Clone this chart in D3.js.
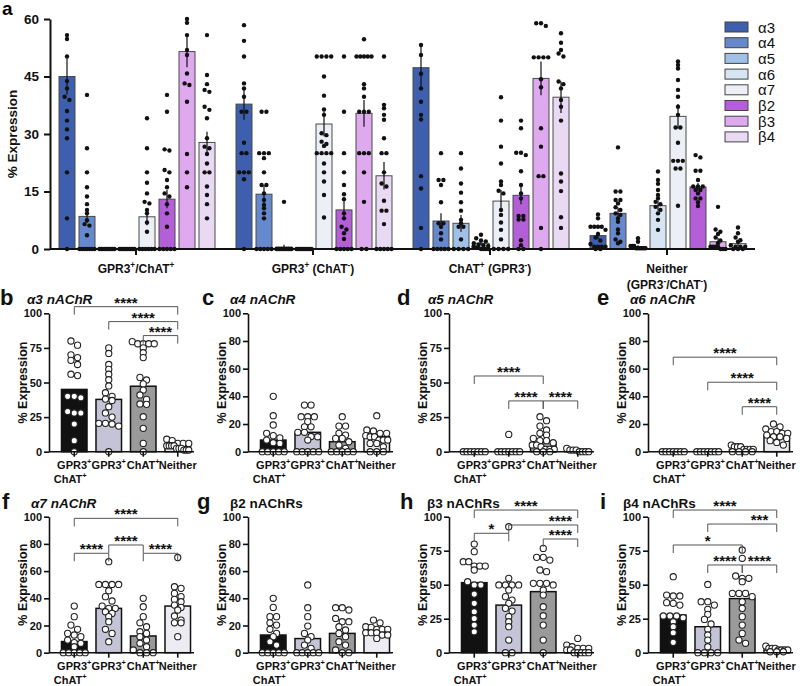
<!DOCTYPE html>
<html><head><meta charset="utf-8">
<script src="https://cdn.jsdelivr.net/npm/d3@7"></script>
<style>body{margin:0;background:#fff} svg{display:block} text{font-family:"Liberation Sans",Arial,Helvetica,sans-serif}</style>
</head><body><script>
// ---------------- DATA ----------------
const groupLabels = ["GPR3^+/ChAT^+", "GPR3^+ (ChAT^-)", "ChAT^+ (GPR3^-)", "Neither|(GPR3^-/ChAT^-)"];
const subunits = ["α3","α4","α5","α6","α7","β2","β3","β4"];
const subunitColors = ["#3d5fae","#6688cc","#a0c0e8","#d6e4f4","#eceff6","#b45fd8","#dfa9ef","#ead9f3"];
const ticksA = [0,15,30,45,60];

const meanG1 = [45, 8.5, 0, 0, 8.4, 13, 51.5, 27.8];
const semG1  = [4.7, 1.7, 0, 0, 2.2, 2.4, 4.1, 2.8];
const meanG2 = [37.8, 14.3, 0.5, 0, 32.6, 10.2, 35.4, 19.1];
const semG2  = [4.1, 2.4, 0.6, 0, 3.2, 2.6, 3.5, 3.6];
const meanG3 = [47.3, 7.3, 6.7, 1.5, 12.5, 14, 44.5, 39.6];
const semG3  = [5.5, 2, 2.2, 0.5, 2.9, 2.3, 4.4, 4.1];
const meanG4 = [3.5, 9.3, 0.6, 11.3, 34.6, 16.2, 1.9, 1.4];
const semG4  = [1, 1.5, 0.4, 1.3, 3.2, 1, 1, 0.7];

const pointsG1 = [
  [55.8,54.8,50.2,43.8,41.9,39.7,38.9,36,33.5,31.2,28.9,20,8,0],
  [40.2,26.3,20,16.1,13.7,11.7,10.2,9.3,7.5,6.5,6.1,3.6,0,0,0,0,0,0,0],
  [0,0,0,0,0,0,0,0,0,0],
  [0,0,0,0,0,0,0,0,0,0],
  [34.1,26.3,20,17.3,14.5,12.3,11.9,10.2,9.3,6.9,4.5,0,0,0,0,0,0],
  [40.2,35.8,26,25.7,20.6,20,18,16.1,14.5,13.7,11.7,9.3,5.8,0,0,0,0,0],
  [60,59,55.8,51.9,50.6,45.8,43.2,42.8,38.4,24.8,20,16.1],
  [55.8,45.4,43,41.5,41,37.1,36.3,34.1,28.9,26.7,26.3,24.8,22.3,20,20,16.3,14.1,11.7,8]
];
const pointsG2 = [
  [58.4,54.3,50.2,43.2,41.9,39.7,35.8,35.8,27.7,25,25,20,20,20,18.2,0],
  [35.8,35.8,25,25,25,23.7,20,16.7,16.7,14.5,12.8,11.5,10.6,9.3,8,0,0,0,0,0],
  [12.3,0,0,0,0,0,0,0,0,0,0],
  [0,0,0,0,0,0,0,0,0,0],
  [50.2,50.2,50.2,50.2,45,40,36.4,35,30.2,29.7,28,27.4,26.9,25,25,25,25,22.3,20,17.6,14.1,8.2],
  [50.2,35.8,25,20,16.7,14.3,13,9.3,8,5.8,5.1,4.1,2.6,0,0,0,0,0],
  [54.7,50.2,50.2,50.2,50.2,50.2,43,41.9,39.7,35.8,35.8,35.8,25,25,25,20,12.3,0,0],
  [50.2,37.6,36.7,35,33.7,28.9,25,25,20,17.1,16.3,12.6,10,10,6.5,0,0,0,0,0]
];
const pointsG3 = [
  [53.2,50.6,45.7,41.9,38.4,35,33.8,19,15.8,5.5,0],
  [25,18,18,16.7,12.2,6.7,6.7,5.8,4.1,2.5,0,0,0,0,0],
  [25,21,17.1,14.7,12.2,10,7.6,6.7,5.8,5.8,2.5,0,0,0,0],
  [3.7,2.8,2.2,2,1.5,1.2,1,0.8,0.6,0.4,0.3,0,0,0,0],
  [39.6,33.5,26.7,22.3,17.6,16.7,15.2,14.5,10.2,8.9,6.9,5,2.5,0,0,0,0],
  [33.5,31.5,25.1,25.1,24.5,20.3,16.7,14.5,13.2,8.6,8.6,7.7,7.7,2.3,1,0,0],
  [58.9,58.9,58.2,50,50,50,50,44.3,42.2,31.5,26.7,19,19,5.5,0],
  [56.3,53.8,51.9,51,50.2,43.7,43,41.9,38.9,37.1,33.5,19.7,17.6,15.1,8.3,5.5]
];
const pointsG4 = [
  [9,8,5.8,5.8,5.8,5.8,5,3.9,3,2.2,1.3,0.6,0.6,0.6,0.6,0,0],
  [26.5,15,15,12.8,12.8,11.9,10.9,10.2,9.3,8.9,8,7.1,5.1,4.1,2.5,1.9,1.5],
  [2.8,1.9,0.8,0.8,0.8,0.2,0.2,0.2,0.2,0.2,0.2],
  [20.2,18,17,15.4,14.1,13.2,12.3,11.7,11,10.2,9.3,7.6,5],
  [48.9,48,47.1,44.1,41.5,39.7,37.1,35,31.7,31.7,27.7,23,23,23,21,21,11.3],
  [24.5,23.9,20.4,20.4,18,16.3,16.3,16.3,15.4,15.4,14.5,13.2,13.2,12.2,11.2],
  [11,5.1,4.5,3.9,3,2.2,1.5,0.6,0.6,0.6,0.6,0,0,0],
  [5.6,4.1,3,2.3,1.9,1,0.6,0.6,0.6,0,0,0]
];

// small panels
const smallCategories = ["GPR3^+|ChAT^+", "GPR3^+", "ChAT^+", "Neither"];
const smallColors = ["#111111","#c4c4d6","#9a9a9a","#ececf2"];
const ticks25 = [0,25,50,75,100];
const ticks20 = [0,20,40,60,80,100];

const meansB = [45, 37.8, 47.3, 3.8];
const pointsB = [
  [80,77,70,68,66,63,56,55,40,40,39,29,28,28,20,8,0],
  [75,71,63,59.5,56,52,47.5,42.6,40,38,37,32.5,28,25,20.5,20.5,20,18.5,0],
  [79.5,78,78,78,78,75,71.5,68,53.7,51.8,49,44.6,41,37.8,34.5,34.2,25.3,16.9,6,0],
  [9,8,6,6,6,4.3,4.3,4.3,4.3,2.4,2.4,2.4,1.2,1.2,1.2]
];
const sigB = [[0,3,104.8,"****"],[1,3,94,"****"],[2,3,83.9,"****"]];

const meansC = [8.4, 14, 7.2, 10.8];
const pointsC = [
  [40,26,19.3,13.3,11.6,10,8.4,6.5,6,0,0,0,0,0],
  [33.7,33.7,25.3,25.3,25.3,21.7,18,18,14,14,11,10.8,8.4,0,0,0,0,0],
  [25.3,18.5,18.5,13.3,12,9.6,9.6,7.2,4.8,2.4,0,0,0,0,0],
  [26,15.7,15,13.3,13.3,11.6,10.8,10.8,8.4,8.4,8.4,6,6,3.6,0,0,0]
];
const sigC = [];

const meansD = [0, 0.7, 6.7, 0.6];
const pointsD = [
  [0,0,0,0,0,0,0],
  [12.5,0,0,0,0,0,0,0],
  [25.3,22.4,18.5,15.7,13.3,12,9.6,8,8,6.5,4.8,4.8,3.6,1.7,1.7,1.7,0,0,0],
  [2.4,1.2,1.2,1.2,0,0,0,0]
];
const sigD = [[0,2,54.7,"****"],[1,2,36.7,"****"],[2,3,36.7,"****"]];

const meansE = [0, 0, 1.7, 11.6];
const pointsE = [
  [0,0,0,0,0,0,0],
  [0,0,0,0,0,0,0],
  [4.8,3.6,3.6,3.6,1.7,1.7,1.7,1.7,0,0,0,0],
  [20,18,16.4,14.5,14.5,13.3,13.3,12,10.8,10.8,9.6,8,6.7,4.8]
];
const sigE = [[0,3,68.3,"****"],[1,3,50.2,"****"],[2,3,32.5,"****"]];

const meansF = [8.2, 32.6, 12.3, 34.3];
const pointsF = [
  [34.3,26.5,20.3,17.2,14.2,13,11.8,9.3,7.4,6.9,4.4,0,0,0,0,0],
  [66.9,50.2,50.2,50.2,50.2,45.6,41.2,38,34.3,32.6,32.6,30.1,28.9,26.5,22.8,17.2,14.2,8.1],
  [40,33.8,26.5,22,19.1,15.4,14.2,11.8,9.3,6.9,4.4,2,0,0,0],
  [70,48.5,47.3,43.6,41.2,39.2,37.5,35,33.3,31.4,27,24,22,22,11.8]
];
const sigF = [[0,3,98.8,"****"],[0,1,73.1,"****"],[1,2,79.2,"****"],[2,3,73.1,"****"]];

const meansG = [13, 10.4, 14.2, 16.8];
const pointsG = [
  [40,33.3,26.5,26.5,22,20.3,17.2,14.2,11.8,8.1,5.6,0,0,0,0,0],
  [49.8,33.1,26.5,19.6,14.2,11.8,9.3,5.6,3.2,0,0,0,0,0],
  [33.1,33.1,31.4,25.2,22.8,22.8,19.1,16.7,14.2,11.8,8.1,5.6,2,0,0],
  [24,22,19.1,18.6,17.2,17.2,17.2,14.7,14.7,14.7,13,13,10.5]
];
const sigG = [];

const meansH = [51.5, 35, 44.9, 2];
const pointsH = [
  [79.9,74.3,66.9,66.9,63.7,63.7,63.7,60.8,52.2,49.8,49.8,43.1,36.3,30.1,25.2,20.3,15.4],
  [92.6,54.7,49.8,49.8,49.8,49.8,46.1,41.2,38.7,36.3,32.6,30.6,26.5,22.8,19.1,9.3,0,0],
  [76.7,70.1,70.1,68.1,60.8,59.6,51,51,51,49.8,46.1,42.4,33.8,27.2,20.3,9.3,0],
  [10.5,5.6,4.4,3.2,3.2,3.2,2,2,0,0,0,0,0]
];
const sigH = [[0,3,104.9,"****"],[1,3,93.9,"****",2.5],[2,3,83.6,"****"],[0,1,87.8,"*"]];

const meansI = [27.7, 19.1, 39.8, 2];
const pointsI = [
  [55.9,42.4,41.7,41.7,36.8,36.3,35,27,27,27,25.7,22.8,19.1,14.7,7.6],
  [50.2,37.5,37.5,35,31.9,28.2,24.5,21.1,17.2,13,9.3,4.4,0,0,0,0],
  [75.5,69.4,56.4,54.7,54.7,52.2,43.6,43.6,43.6,41.2,37.5,32.6,26.5,20.3,14.2,9.3,6.9],
  [4.9,3.2,3.2,3.2,2,2,2,2,0.7,0.7,0.7]
];
const sigI = [[0,3,104.9,"****"],[1,3,94.6,"***",2.5],[0,2,79.2,"*"],[1,2,64.5,"****"],[2,3,64.5,"****"]];

// ---------------- DRAWING ----------------
const W = 800, H = 686;
const svg = d3.select("body").append("svg").attr("width", W).attr("height", H);

function rich(sel, str, fs) {
  const parts = str.split(/(\^[+\-])/);
  let up = false;
  parts.forEach(p => {
    if (!p) return;
    if (p[0] === "^") {
      sel.append("tspan").attr("dy", -fs * 0.42).attr("font-size", fs * 0.68).text(p.slice(1) === "-" ? "-" : "+");
      up = true;
    } else {
      const t = sel.append("tspan").text(p);
      if (up) { t.attr("dy", fs * 0.42); up = false; }
    }
  });
}

function swarm(vals, y, cx, r, maxHalf) {
  const pts = vals.map(v => ({ v, py: y(v) })).sort((a, b) => a.py - b.py);
  const rows = []; let cur = null;
  pts.forEach(p => {
    if (!cur || p.py - cur.y0 > r * 1.5) { cur = { y0: p.py, items: [] }; rows.push(cur); }
    cur.items.push(p);
  });
  const out = [];
  rows.forEach(row => {
    const n = row.items.length;
    const sp = n > 1 ? Math.min(2 * r + 0.4, 2 * maxHalf / (n - 1)) : 0;
    row.items.forEach((p, i) => out.push({ x: cx + (i - (n - 1) / 2) * sp, y: p.py }));
  });
  return out;
}

function styleAxis(g, fs, sw) {
  g.selectAll("path.domain").attr("stroke", "#111").attr("stroke-width", sw);
  g.selectAll(".tick line").attr("stroke", "#111").attr("stroke-width", sw);
  g.selectAll(".tick text").attr("font-size", fs).attr("font-weight", "bold").attr("fill", "#111")
    .attr("font-family", '"Liberation Sans",Arial,sans-serif');
}

// ===== Panel a =====
(function () {
  const top = 19, bottom = 249;
  const y = d3.scaleLinear().domain([0, 60]).range([bottom, top]);
  const x0 = d3.scaleBand().domain(d3.range(4)).range([47.5, 755.5]);
  const x1 = d3.scaleBand().domain(subunits).range([9.5, 169.5]).paddingInner(0.2).paddingOuter(0.1);
  const means = [meanG1, meanG2, meanG3, meanG4];
  const sems = [semG1, semG2, semG3, semG4];
  const pts = [pointsG1, pointsG2, pointsG3, pointsG4];
  const g = svg.append("g");
  const bw = x1.bandwidth();
  for (let gi = 0; gi < 4; gi++) {
    subunits.forEach((s, si) => {
      const xl = x0(gi) + x1(s), cx = xl + bw / 2, m = means[gi][si];
      g.append("rect").attr("x", xl).attr("y", y(m)).attr("width", bw).attr("height", y(0) - y(m))
        .attr("fill", subunitColors[si]).attr("stroke", "#4a4a4a").attr("stroke-width", 1);
      swarm(pts[gi][si], y, cx, 2.2, 7.5).forEach(p => {
        g.append("circle").attr("cx", p.x).attr("cy", p.y).attr("r", 2.2).attr("fill", "#111");
      });
      const e = sems[gi][si];
      if (e > 0) {
        g.append("line").attr("x1", cx).attr("x2", cx).attr("y1", y(Math.max(0, m - e))).attr("y2", y(m + e))
          .attr("stroke", "#111").attr("stroke-width", 1.2);
      }
    });
  }
  const ya = svg.append("g").attr("transform", "translate(50,0)")
    .call(d3.axisLeft(y).tickValues(ticksA).tickSize(6).tickSizeOuter(0).tickPadding(5));
  styleAxis(ya, 13.5, 2);
  const xa = svg.append("g").attr("transform", `translate(0,${bottom})`)
    .call(d3.axisBottom(x0).tickSize(6).tickSizeOuter(0).tickFormat(""));
  xa.select("path.domain").attr("d", `M50,0H755`);
  styleAxis(xa, 12, 2);
  groupLabels.forEach((lab, i) => {
    const lines = lab.split("|");
    lines.forEach((ln, k) => {
      const t = svg.append("text").attr("x", x0(i) + x0.bandwidth() / 2).attr("y", 273 + k * 16)
        .attr("text-anchor", "middle").attr("font-size", 12).attr("font-weight", "bold").attr("fill", "#111");
      rich(t, ln, 12);
    });
  });
  svg.append("text").attr("transform", `translate(17,${(top + bottom) / 2}) rotate(-90)`)
    .attr("text-anchor", "middle").attr("font-size", 13.5).attr("font-weight", "bold").attr("fill", "#111")
    .text("% Expression");
  svg.append("text").attr("x", 2).attr("y", 15).attr("font-size", 19).attr("font-weight", "bold").text("a");
  // legend
  subunits.forEach((s, i) => {
    const cy = 27 + i * 15.7;
    svg.append("rect").attr("x", 725).attr("y", cy - 5).attr("width", 23).attr("height", 10)
      .attr("fill", subunitColors[i]).attr("stroke", "#444").attr("stroke-width", 1);
    svg.append("text").attr("x", 758).attr("y", cy + 5.5).attr("font-size", 15).attr("fill", "#111").text(s);
  });
})();

// ===== Small panels =====
const colX = [49, 248, 449, 648];
const rowY = [{ top: 313.3, bottom: 451.7 }, { top: 516.7, bottom: 652.7 }];
const panels = [
  { letter: "b", title: "α3 nAChR", italic: true, c: 0, r: 0, ticks: ticks25, means: meansB, pts: pointsB, sig: sigB, tdx: -22, lx: 0 },
  { letter: "c", title: "α4 nAChR", italic: true, c: 1, r: 0, ticks: ticks20, means: meansC, pts: pointsC, sig: sigC, tdx: -18, lx: 202 },
  { letter: "d", title: "α5 nAChR", italic: true, c: 2, r: 0, ticks: ticks25, means: meansD, pts: pointsD, sig: sigD, tdx: -21, lx: 397 },
  { letter: "e", title: "α6 nAChR", italic: true, c: 3, r: 0, ticks: ticks20, means: meansE, pts: pointsE, sig: sigE, tdx: -18, lx: 597 },
  { letter: "f", title: "α7 nAChR", italic: true, c: 0, r: 1, ticks: ticks20, means: meansF, pts: pointsF, sig: sigF, tdx: -18, lx: 2 },
  { letter: "g", title: "β2 nAChRs", italic: false, c: 1, r: 1, ticks: ticks20, means: meansG, pts: pointsG, sig: sigG, tdx: -18, lx: 197 },
  { letter: "h", title: "β3 nAChRs", italic: false, c: 2, r: 1, ticks: ticks25, means: meansH, pts: pointsH, sig: sigH, tdx: -22, lx: 400 },
  { letter: "i", title: "β4 nAChRs", italic: false, c: 3, r: 1, ticks: ticks25, means: meansI, pts: pointsI, sig: sigI, tdx: -25, lx: 600 }
];

panels.forEach(P => {
  const ax = colX[P.c], top = rowY[P.r].top, bottom = rowY[P.r].bottom;
  const y = d3.scaleLinear().domain([0, 100]).range([bottom, top]);
  const x = d3.scaleBand().domain(d3.range(4)).range([ax + 4, ax + 150]).paddingInner(0.26).paddingOuter(0.246);
  const bw = x.bandwidth(), step = x.step();
  const g = svg.append("g");
  P.means.forEach((m, i) => {
    g.append("rect").attr("x", x(i)).attr("y", y(m)).attr("width", bw).attr("height", y(0) - y(m))
      .attr("fill", smallColors[i]).attr("stroke", "#111").attr("stroke-width", 1.5);
  });
  P.pts.forEach((vals, i) => {
    swarm(vals, y, x(i) + bw / 2, 3.1, 11).forEach(p => {
      g.append("circle").attr("cx", p.x).attr("cy", p.y).attr("r", 3.1)
        .attr("fill", "#fff").attr("stroke", "#222").attr("stroke-width", 1.1);
    });
  });
  const ya = svg.append("g").attr("transform", `translate(${ax},0)`)
    .call(d3.axisLeft(y).tickValues(P.ticks).tickSize(5).tickSizeOuter(0).tickPadding(2));
  styleAxis(ya, 11, 1.6);
  const xa = svg.append("g").attr("transform", `translate(0,${bottom})`)
    .call(d3.axisBottom(x).tickSize(5).tickSizeOuter(0).tickFormat(""));
  xa.select("path.domain").attr("d", `M${ax},0H${ax + 145}`);
  styleAxis(xa, 11, 1.6);
  smallCategories.forEach((lab, i) => {
    lab.split("|").forEach((ln, k) => {
      const t = svg.append("text").attr("x", x(i) + bw / 2 - (k ? 4 : 0)).attr("y", bottom + 17 + k * 14)
        .attr("text-anchor", "middle").attr("font-size", 11).attr("font-weight", "bold").attr("fill", "#111");
      rich(t, ln, 11);
    });
  });
  // significance brackets
  P.sig.forEach(s => {
    const [a, b, v, lab, lp] = s;
    const xa1 = x(a) + bw / 2, xb1 = x(b) + bw / 2, yy = y(v);
    g.append("path").attr("d", `M${xa1},${yy + 8}V${yy}H${xb1}V${yy + 8}`)
      .attr("fill", "none").attr("stroke", "#555").attr("stroke-width", 1);
    const lx = lp != null ? x(0) + bw / 2 + lp * step : (xa1 + xb1) / 2;
    g.append("text").attr("x", lx).attr("y", yy + 1).attr("text-anchor", "middle")
      .attr("font-size", 15).attr("font-weight", "bold").attr("fill", "#111").text(lab);
  });
  svg.append("text").attr("transform", `translate(${ax - 22},${(top + bottom) / 2}) rotate(-90)`)
    .attr("text-anchor", "middle").attr("font-size", 12.5).attr("font-weight", "bold").attr("fill", "#111")
    .text("% Expression");
  svg.append("text").attr("x", ax + P.tdx).attr("y", top - 9).attr("font-size", 13.5).attr("font-weight", "bold")
    .attr("font-style", P.italic ? "italic" : "normal").attr("fill", "#111").text(P.title);
  svg.append("text").attr("x", P.lx).attr("y", top - 8).attr("font-size", 22).attr("font-weight", "bold")
    .attr("fill", "#111").text(P.letter);
});
</script></body></html>
